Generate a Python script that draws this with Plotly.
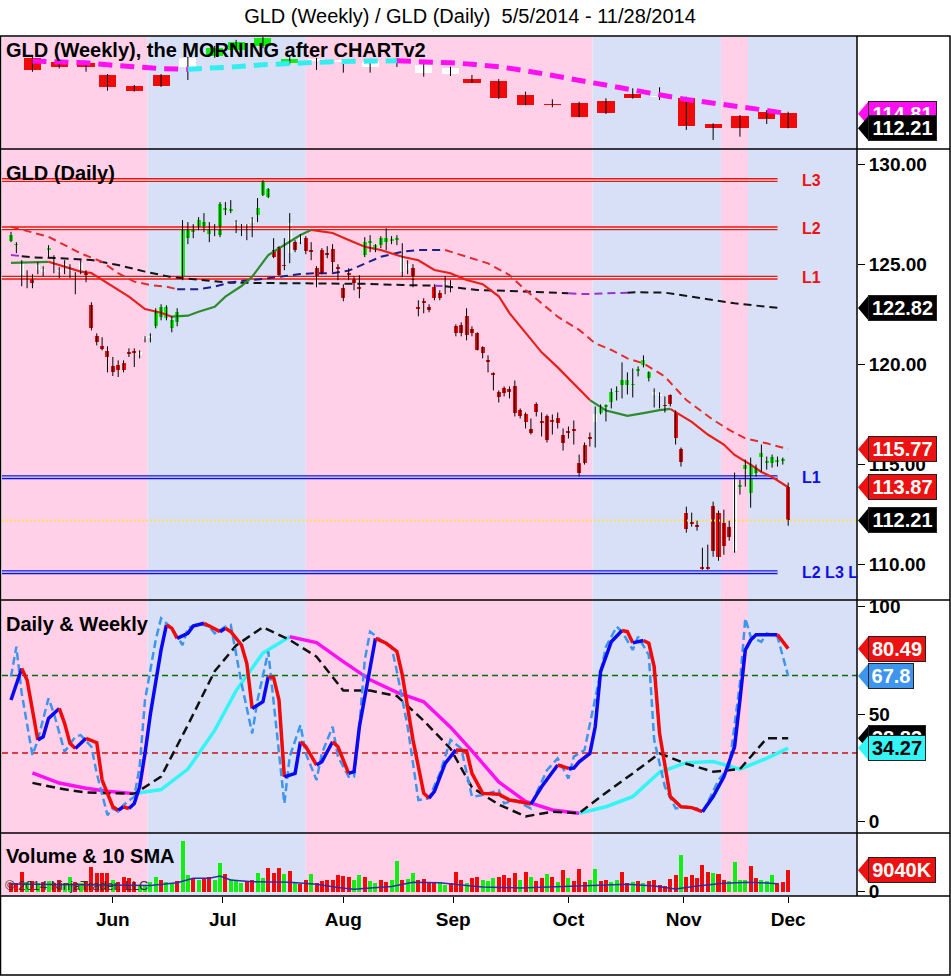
import plotly.graph_objects as go

# ============================ DATA ============================
# Daily GLD bars 5/5/2014 - 11/28/2014 (bar index = trading day)
day_open = [126.15,125.95,124.45,124.30,124.40,124.70,124.60,125.70,125.00,124.60,
            124.90,124.65,124.35,124.70,124.55,122.96,121.40,120.90,120.67,119.90,
            119.97,120.05,120.60,120.65,120.45,121.25,121.30,121.90,122.35,122.30,
            121.80,122.10,124.30,126.30,126.60,126.85,126.90,126.50,126.75,126.45,
            127.70,127.65,126.95,126.75,126.85,127.05,127.45,128.45,128.35,125.70,
            125.85,124.95,125.55,126.10,126.10,126.30,125.70,124.80,125.70,125.55,
            125.75,124.85,123.80,124.55,124.35,123.85,125.45,126.05,125.70,125.95,
            126.10,126.15,126.20,124.60,124.70,124.80,122.85,123.15,122.85,123.85,
            123.55,124.00,123.85,121.90,121.95,122.40,121.75,121.55,120.85,120.20,
            119.55,118.60,118.80,118.75,118.90,117.70,117.50,116.80,118.00,117.15,
            117.40,117.20,117.30,116.50,116.70,116.75,115.10,116.00,116.35,117.10,
            117.55,117.85,118.10,118.60,118.95,118.95,118.95,119.65,119.95,119.30,
            118.45,118.40,117.90,118.45,117.60,115.80,112.60,112.10,111.95,109.90,
            109.90,112.95,112.60,112.10,111.90,110.70,113.90,114.80,113.60,114.60,
            115.40,115.10,115.10,115.15,115.20,113.88]
day_high = [126.62,126.10,125.20,124.70,124.50,125.10,124.90,125.95,125.45,124.85,
            125.20,125.00,124.60,125.20,124.70,123.10,121.55,121.35,120.90,120.37,
            120.20,120.20,120.80,120.80,120.70,121.40,121.55,122.80,123.00,122.95,
            122.40,122.80,127.20,127.10,127.00,127.35,127.55,127.10,127.00,128.10,
            128.10,128.20,127.20,127.00,127.00,127.35,128.30,129.20,128.80,126.30,
            125.90,126.30,127.55,126.20,126.50,126.40,126.10,124.90,125.80,125.90,
            126.00,125.00,124.00,124.80,124.40,124.45,126.35,126.45,126.00,126.40,
            126.80,126.40,126.45,126.05,125.20,125.00,123.20,123.30,123.00,124.00,
            123.70,124.40,124.20,122.00,122.10,122.80,121.90,121.60,120.90,120.45,
            119.60,118.70,118.90,118.90,119.20,117.80,117.60,117.30,118.10,117.60,
            117.50,117.50,117.60,116.80,116.90,117.20,115.50,116.10,116.60,117.90,
            118.00,118.00,118.80,118.90,120.10,119.60,119.80,119.90,120.45,119.65,
            118.80,118.60,118.40,118.50,117.70,115.85,112.90,112.60,112.20,110.85,
            111.00,113.15,112.70,112.75,112.20,114.60,114.25,115.25,115.35,115.00,
            116.00,115.40,115.50,115.40,115.35,114.10]
day_low = [126.10,125.55,123.90,123.80,123.80,124.50,124.40,125.35,124.55,124.30,
           124.50,124.30,123.50,124.50,124.10,121.70,120.95,120.70,119.60,119.42,
           119.37,119.60,120.37,119.87,120.30,121.10,121.10,121.80,122.20,122.20,
           121.60,121.90,124.20,126.00,126.30,126.70,126.60,126.10,126.40,126.35,
           127.45,127.55,126.55,126.40,126.20,126.35,127.10,128.40,128.30,125.30,
           124.40,124.70,125.05,125.60,126.00,125.50,125.20,123.85,124.50,125.30,
           124.60,124.20,123.15,124.20,123.70,123.30,125.35,125.60,125.60,125.80,
           125.70,126.00,125.95,124.35,124.50,123.85,122.40,122.55,122.60,123.20,
           123.20,123.50,123.60,121.40,121.40,121.20,121.40,120.70,120.30,119.60,
           118.70,118.10,118.40,118.30,117.40,117.30,116.80,116.50,117.40,116.40,
           116.10,116.50,116.80,115.70,116.30,116.00,114.40,115.00,115.90,115.85,
           117.50,117.15,117.80,118.20,118.30,118.50,118.35,119.40,119.85,119.15,
           117.85,117.80,117.60,117.90,116.00,114.90,111.60,111.90,111.70,109.75,
           109.75,110.40,110.20,110.50,111.20,110.60,113.50,113.90,112.85,114.40,
           114.65,114.75,114.85,114.90,115.00,111.95]
day_close = [126.45,126.00,125.10,124.40,124.05,124.95,124.75,125.80,125.10,124.70,
             125.00,124.75,124.25,125.05,124.45,121.80,121.10,120.75,120.37,119.60,
             119.72,119.70,120.52,120.55,120.60,121.35,121.40,122.60,122.85,122.85,
             122.20,122.60,126.85,126.80,126.75,127.20,127.10,126.75,126.85,128.00,
             127.80,127.75,127.10,126.90,127.00,127.25,127.80,129.10,128.75,125.35,
             124.45,124.90,127.05,125.70,126.40,125.65,125.60,124.25,124.55,125.45,
             125.10,124.75,123.30,124.45,124.05,123.75,126.10,126.15,125.95,126.30,
             126.30,126.25,126.30,125.45,125.00,124.20,122.75,123.05,122.70,123.30,
             123.30,124.10,123.95,121.55,121.55,121.45,121.55,120.70,120.55,120.10,
             119.45,118.35,118.55,118.60,117.55,117.40,117.10,116.60,117.60,117.05,
             116.25,117.10,117.05,116.10,116.60,116.70,114.60,115.10,116.30,117.50,
             117.80,117.95,118.60,118.65,119.20,119.20,119.00,119.75,120.20,119.60,
             118.60,118.50,117.95,118.00,116.35,115.15,111.80,112.05,111.90,109.80,
             109.80,110.70,110.40,110.95,111.40,114.30,114.00,115.00,115.00,114.85,
             115.60,115.15,115.40,115.25,115.25,112.21]
# paint-bar state per day: G = bullish, R = bearish, W = neutral
day_paint = ("GGWWRWWGWWWWRW" + "R" * 10 + "WWW" + "G" * 15 + "WWWWGGGRRRWRW" + "R" * 11 +
             "G" * 7 + "WW" + "R" * 6 + "WW" + "R" * 26 + "W" + "G" * 10 + "WW" + "R" * 13 +
             "W" + "G" * 9 + "R")

# Weekly bars (plotted at the last daily bar of each week)
week_end_bar = [4, 9, 14, 18, 23, 28, 33, 38, 42, 47, 52, 57, 62, 67, 72, 77, 82, 86, 91, 96,
                101, 106, 111, 116, 121, 126, 131, 136, 141, 145]
wk_open = [124.71,124.10,123.92,121.73,119.76,121.73,123.21,125.12,126.19,126.91,
           123.92,124.20,124.05,123.21,124.20,122.03,121.91,120.96,120.66,118.16,
           116.55,116.78,117.09,118.33,117.71,117.57,112.92,114.41,115.17,114.89]
wk_high = [125.10,124.30,124.10,121.90,119.94,121.90,124.94,126.90,128.00,128.60,
           124.90,124.77,124.40,124.60,124.77,123.87,123.21,121.73,121.00,118.75,
           117.39,116.96,117.57,119.35,119.53,117.85,113.10,114.58,115.48,115.17]
wk_low = [122.30,122.90,122.32,118.92,118.75,119.58,120.84,124.80,125.80,126.50,
          123.60,122.62,122.14,122.14,123.16,121.42,121.55,120.35,117.44,116.32,
          115.96,114.17,114.76,117.50,117.26,111.91,110.12,110.71,112.98,112.21]
wk_close = [122.62,123.21,123.21,119.53,118.92,119.76,124.71,126.55,127.62,128.33,
            124.53,124.60,124.40,124.10,124.60,123.51,122.92,120.35,117.57,116.37,
            116.37,114.28,114.89,117.57,117.98,112.62,112.32,112.32,113.82,112.21]
wk_paint = "RRRRRRWGGGGWWWWWWRRRRRRRWRRRRR"
wk_ma = [124.23,124.12,123.90,123.55,123.20,122.85,122.75,122.92,123.20,123.55,
         123.85,124.00,124.15,124.20,124.25,124.12,123.90,123.65,123.20,122.50,
         121.60,120.90,119.94,119.10,118.20,117.35,116.60,116.05,115.40,114.81]

# Daily moving averages (read at selected bars); colour state of segment ending at each point
ema_bar = [0, 7, 10, 13, 15, 18, 22, 25, 28, 30, 33, 35, 38, 40, 43, 45, 48, 51, 54, 56,
           60, 63, 66, 69, 73, 76, 79, 82, 85, 88, 91, 93, 96, 99, 102, 105, 108, 111, 113, 115,
           118, 121, 123, 124, 127, 130, 133, 135, 138, 140, 142, 145]
ema_val = [125.07,125.12,124.88,124.63,124.56,124.06,123.38,122.76,122.58,122.38,
           122.43,122.63,122.88,123.38,123.91,124.38,125.45,125.96,126.46,126.71,
           126.56,126.21,125.87,125.71,125.37,125.20,124.71,124.55,124.21,124.00,
           123.40,122.56,121.60,120.60,119.85,119.05,118.22,117.70,117.57,117.43,
           117.57,117.72,117.78,117.62,117.13,116.50,116.00,115.48,115.00,114.63,
           114.38,113.87]
ema_state = "GGRRRRRRRRGGGGGGGGGGRRRRRRRRRRRRRRRRRGGGGGGRRRRRRRRR"

env_bar = [0, 7, 13, 17, 20, 23, 26, 29, 31, 35, 38, 41, 48, 51, 54, 57, 60, 63, 66, 69,
           73, 76, 81, 85, 89, 93, 96, 99, 102, 106, 109, 112, 115, 118, 122, 126, 131, 134, 137, 141,
           145]
env_val = [126.87,126.37,125.54,125.12,124.55,124.13,123.96,123.88,123.75,123.75,
           123.88,124.10,124.30,124.41,124.51,124.55,124.55,124.68,125.04,125.37,
           125.62,125.71,125.71,125.37,125.04,124.46,123.71,123.05,122.38,121.72,
           121.05,120.72,120.30,120.05,119.39,118.22,117.23,116.73,116.31,116.06,
           115.77]
env_state = "RRRRRRRRRBBBBBBBBBBBBBBRRRRRRRRRRRRRRRRRR"

sma_bar = [0, 2, 4, 10, 15, 20, 25, 30, 35, 41, 48, 54, 60, 66, 73, 79, 81, 87, 92, 98,
           104, 107, 115, 117, 122, 129, 135, 143]
sma_val = [125.46,125.40,125.34,125.29,125.21,124.96,124.63,124.35,124.21,124.08,
           124.06,124.05,124.05,124.02,123.96,123.93,123.90,123.71,123.68,123.63,
           123.55,123.51,123.58,123.60,123.58,123.30,123.05,122.82]
sma_state = "PPKKKKKKKKKKKKKKPKKKKPPKKKKK"

# Stochastics (daily: solid %D and dashed %K; weekly: solid and dashed)
stk_bar = [0, 2, 3, 4, 5, 6, 7, 9, 10, 11, 12, 14, 16, 17, 19, 20, 21, 22, 23, 24,
           25, 26, 28, 29, 30, 31, 33, 34, 36, 38, 39, 40, 41, 43, 44, 45, 47, 48, 49, 50,
           51, 53, 54, 55, 57, 58, 60, 61, 63, 64, 65, 67, 68, 70, 72, 73, 75, 77, 78, 79,
           81, 83, 85, 86, 88, 91, 93, 95, 97, 99, 102, 104, 105, 106, 108, 109, 110, 112, 114, 115,
           116, 118, 119, 120, 121, 123, 125, 127, 129, 131, 133, 135, 136, 137, 138, 139, 140, 141, 143, 145]
stk_val = [56.6, 71.3, 65.9, 52.0, 38.0, 39.5, 48.1, 52.7, 45.8, 36.5, 34.1, 38.8, 36.8, 19.4, 7.0, 5.4, 7.0, 6.2, 8.5, 16.3,
           31.8, 50.0, 79.9, 91.5, 90.0, 85.3, 87.6, 91.0, 92.3, 89.5, 88.4, 90.0, 88.4, 82.2, 73.6, 52.7, 55.8, 67.5, 67.0, 56.6,
           20.9, 22.5, 37.2, 34.9, 26.4, 27.9, 37.2, 34.9, 22.5, 23.3, 44.2, 72.1, 85.3, 83.0, 79.2, 68.3, 38.1, 13.3, 11.0, 14.1,
           27.2, 33.4, 33.0, 22.5, 13.2, 12.8, 10.1, 9.3, 8.2, 16.3, 26.4, 24.8, 25.0, 27.9, 31.8, 44.2, 69.8, 83.7, 88.9, 88.4,
           83.2, 84.3, 83.0, 72.1, 41.1, 11.7, 7.0, 6.6, 4.7, 11.7, 20.9, 34.9, 56.6, 79.9, 84.5, 87.0, 87.0, 87.0, 87.0, 80.49]
std_bar = [0, 1, 2, 4, 5, 7, 8, 10, 12, 13, 15, 16, 18, 19, 20, 21, 23, 24, 25, 27,
           28, 30, 32, 33, 35, 37, 38, 40, 41, 42, 43, 45, 46, 48, 49, 51, 52, 54, 55, 57,
           58, 60, 61, 63, 64, 65, 66, 67, 69, 71, 72, 74, 76, 78, 80, 82, 84, 86, 88, 91,
           92, 94, 97, 98, 100, 102, 104, 105, 107, 109, 111, 113, 114, 116, 117, 119, 120, 122, 124, 126,
           128, 129, 132, 134, 136, 137, 138, 140, 141, 143, 145]
std_val = [67.5, 81.4, 59.7, 31.0, 38.0, 57.4, 50.4, 32.6, 39.6, 40.3, 34.9, 22.5, 3.1, 6.2, 4.7, 7.8, 11.7, 25.6, 56.6, 84.5,
           94.6, 90.0, 82.2, 90.0, 92.3, 90.7, 87.6, 90.7, 91.5, 78.3, 64.4, 41.1, 56.6, 79.2, 55.1, 8.5, 30.3, 45.0, 31.8, 19.4,
           31.8, 44.2, 30.3, 20.9, 20.9, 44.2, 75.2, 88.4, 84.5, 81.4, 69.8, 44.2, 10.1, 11.0, 22.5, 38.1, 34.1, 11.7, 12.4, 14.7,
           8.5, 10.1, 6.2, 13.2, 24.0, 29.5, 20.1, 30.3, 33.4, 56.6, 81.4, 90.7, 88.4, 79.9, 86.1, 77.5, 38.1, 16.3, 6.2, 7.0,
           6.2, 3.9, 19.4, 25.6, 64.4, 94.6, 86.1, 83.7, 87.6, 86.1, 67.8]
wstk_val = [22.8, 18.0, 15.6, 14.2, 13.1, 15.0, 24.5, 42.5, 61.0, 78.5,
            86.0, 83.3, 74.5, 66.0, 60.2, 55.8, 44.0, 33.0, 18.5, 9.5,
            5.5, 4.0, 7.0, 11.7, 23.0, 27.5, 28.0, 24.5, 29.5, 34.27]
wstk_state = "-MMMMCCCCCCMMMMMMMMMMMCCCCCCCC"
wstd_val = [18.1, 15.5, 13.6, 13.3, 13.0, 21.0, 45.0, 70.0, 82.0, 90.5,
            84.5, 76.8, 61.0, 61.0, 58.5, 47.0, 34.0, 16.0, 8.0, 2.5,
            4.7, 4.0, 13.5, 22.5, 31.8, 27.0, 23.3, 24.5, 38.8, 38.83]
stoch_levels = [68, 32]

# Volume (millions) and direction (G up / R down)
volume = [3.6, 3.6, 8.5, 4.0, 4.5, 3.5, 4.0, 4.5, 3.5, 5.0, 3.8, 6.4, 4.0, 3.5, 4.0, 10.6, 8.0, 7.8, 8.0, 5.0,
          4.0, 6.4, 6.0, 4.2, 3.0, 2.9, 4.0, 6.4, 5.0, 4.0, 3.8, 4.5, 21.5, 7.2, 5.7, 5.0, 5.5, 6.4, 5.0, 12.3,
          7.3, 5.5, 5.0, 3.6, 4.5, 5.0, 7.8, 6.0, 10.0, 8.0, 10.0, 7.5, 8.8, 4.0, 3.4, 5.0, 7.3, 3.6, 4.5, 5.0,
          4.8, 7.0, 6.8, 6.4, 5.0, 7.1, 6.4, 4.5, 3.6, 5.0, 4.2, 5.0, 13.1, 5.0, 5.5, 7.8, 5.0, 5.5, 4.2, 3.6,
          4.0, 3.0, 3.5, 8.5, 5.0, 3.6, 5.7, 6.4, 5.0, 4.5, 5.7, 6.4, 7.1, 6.0, 7.8, 5.0, 8.5, 6.4, 4.5, 5.7,
          7.3, 6.4, 4.0, 9.2, 5.7, 4.5, 9.8, 4.2, 5.0, 9.8, 4.5, 5.0, 4.2, 5.0, 8.5, 3.6, 4.2, 4.5, 3.6, 4.5,
          5.0, 2.9, 2.5, 5.5, 7.1, 15.5, 6.4, 7.1, 6.0, 11.4, 8.5, 7.8, 7.5, 5.0, 4.5, 12.7, 5.0, 5.0, 11.0, 6.0,
          5.0, 4.5, 7.1, 3.6, 4.0, 9.04]
vol_dir = ("RRRGRGRGRRGGRGRRRRRG" "RRRRGGGGRGGRGGRGRRGG" "RGGGRRGGRRRGRGRRGRRR"
           "RRRRGGRGGRRGGRGGRRRR" "GGRRRGRRGGGRRRRGRGRR" "GRGRGRRRGGRRGGRRGRGR"
           "RRRRRGRRRRRGRRGGGGRR" "GGGRRR")
vsma_bar = [0, 9, 21, 26, 31, 34, 37, 39, 41, 45, 52, 57, 61, 64, 67, 71, 75, 80, 85, 88,
            95, 100, 105, 110, 115, 120, 124, 128, 133, 138, 143]
vsma_val = [3.3, 3.0, 2.6, 2.6, 3.8, 5.7, 5.7, 6.6, 5.0, 4.2, 4.0, 3.2, 1.8, 1.0, 1.6, 2.2, 4.0, 3.8, 2.6, 2.0,
            1.6, 2.0, 2.6, 3.0, 3.2, 2.4, 1.2, 2.4, 3.6, 4.0, 3.4]

# Axis / annotations data
month_labels = ["Jun", "Jul", "Aug", "Sep", "Oct", "Nov", "Dec"]
month_tick_bars = [19, 39.5, 62, 82.5, 104, 125.5, 145]
band_edges = [25.5, 55, 108.5, 132.5, 137.5]      # background regime changes (bar index)
red_levels = [124.33, 126.79, 129.20]
red_level_labels = ["L1", "L2", "L3"]
blue_levels = [114.37, 109.63]
blue_level_labels = ["L1", "L2 L3 L"]

# ============================ STYLE / LAYOUT ============================
FONT = "Liberation Sans, Arial, sans-serif"
W, H = 951, 976
L_PX, R_PX, TOP_PX, BOT_PX = 2, 857, 37, 896
PANELS = {"w": (37, 149), "d": (149, 600), "s": (600, 833), "v": (833, 896)}
X_RANGE = [-1.68, 157.84]
RANGES = {"w": [108.51, 128.51], "d": [108.24, 130.75], "s": [-5.21, 103.12], "v": [-1.82, 24.87]}
PINK, BLUE = "#FFD0E8", "#D7E0F7"
CANDLE_COL = {"G": "#11EE11", "R": "#F00A0A", "W": "#FFFFFF"}
UP_COL, DN_COL = "#11EE11", "#F00A0A"


def py(Y):
    return (BOT_PX - Y) / (BOT_PX - TOP_PX)


def pxp(X):
    return (X - L_PX) / (R_PX - L_PX)


fig = go.Figure()
bars = list(range(len(day_close)))
last = bars[-1]


def add_candles(xs, o, h, l, c, paint, yax, width, min_body):
    wx, wy = [], []
    for x, hi, lo in zip(xs, h, l):
        wx += [x, x, None]
        wy += [lo, hi, None]
    fig.add_trace(go.Scatter(x=wx, y=wy, mode="lines", line=dict(color="black", width=1),
                             xaxis="x", yaxis=yax, hoverinfo="skip"))
    base = [min(a, b) for a, b in zip(o, c)]
    hgt = [max(abs(a - b), min_body) for a, b in zip(o, c)]
    cols = [CANDLE_COL.get(paint[i] if i < len(paint) else "R") for i in range(len(xs))]
    fig.add_trace(go.Bar(x=xs, y=hgt, base=base, width=width,
                         marker=dict(color=cols, line=dict(width=0)),
                         xaxis="x", yaxis=yax, hoverinfo="skip"))


def add_state_line(xs, ys, states, colmap, yax, width, dash=None):
    sx, sy = [xs[0]], [ys[0]]
    cur = states[1]
    for i in range(1, len(xs)):
        if states[i] != cur:
            fig.add_trace(go.Scatter(x=sx, y=sy, mode="lines",
                                     line=dict(color=colmap[cur], width=width, dash=dash),
                                     xaxis="x", yaxis=yax, hoverinfo="skip"))
            sx, sy = [xs[i - 1]], [ys[i - 1]]
            cur = states[i]
        sx.append(xs[i])
        sy.append(ys[i])
    fig.add_trace(go.Scatter(x=sx, y=sy, mode="lines",
                             line=dict(color=colmap[cur], width=width, dash=dash),
                             xaxis="x", yaxis=yax, hoverinfo="skip"))


def slope_states(ys, up, down):
    s = ["-"]
    for i in range(1, len(ys)):
        s.append(up if ys[i] >= ys[i - 1] else down)
    return s


def hline(y, x0, x1, yax, color, width, dash=None):
    fig.add_trace(go.Scatter(x=[x0, x1], y=[y, y], mode="lines",
                             line=dict(color=color, width=width, dash=dash),
                             xaxis="x", yaxis=yax, hoverinfo="skip"))


# weekly panel
add_candles(week_end_bar, wk_open, wk_high, wk_low, wk_close, wk_paint, "y", 3.2, 0.15)
add_state_line(week_end_bar, wk_ma, slope_states(wk_ma, "C", "M"),
               {"C": "#33EEEE", "M": "#FF10F0"}, "y", 5, "14px,8px")

# daily panel: levels first
lvl_end = last - 2
for lv in red_levels:
    hline(lv, X_RANGE[0], lvl_end, "y2", "#EE1111", 4)
    hline(lv, X_RANGE[0], lvl_end, "y2", "#FFF0F0", 1.2)
for lv in blue_levels:
    hline(lv, X_RANGE[0], lvl_end, "y2", "#1010DD", 4)
    hline(lv, X_RANGE[0], lvl_end, "y2", "#E8ECFF", 1.2)
hline(day_close[-1], X_RANGE[0], X_RANGE[1], "y2", "#FFE050", 2, "2px,2px")

add_state_line(sma_bar, sma_val, sma_state, {"K": "#141414", "P": "#9933CC"}, "y2", 2, "8px,5px")
add_state_line(env_bar, env_val, env_state, {"R": "#E52A2A", "B": "#1E1E8C"}, "y2", 2, "8px,5px")
add_state_line(ema_bar, ema_val, ema_state, {"R": "#E8201A", "G": "#2E8B2E"}, "y2", 2.2)
add_candles(bars, day_open, day_high, day_low, day_close, day_paint, "y2", 0.75, 0.08)

# stochastic panel
hline(stoch_levels[0], X_RANGE[0], X_RANGE[1], "y3", "#0B6B0B", 1.6, "6px,4px")
hline(stoch_levels[1], X_RANGE[0], X_RANGE[1], "y3", "#CC1111", 1.6, "6px,4px")
add_state_line(week_end_bar, wstk_val, wstk_state, {"C": "#33F5F5", "M": "#FF10F0"}, "y3", 3.5)
fig.add_trace(go.Scatter(x=week_end_bar, y=wstd_val, mode="lines",
                         line=dict(color="#111111", width=2.5, dash="9px,5px"),
                         xaxis="x", yaxis="y3", hoverinfo="skip"))
fig.add_trace(go.Scatter(x=std_bar, y=std_val, mode="lines",
                         line=dict(color="#3D95EE", width=2.5, dash="8px,4px"),
                         xaxis="x", yaxis="y3", hoverinfo="skip"))
add_state_line(stk_bar, stk_val, slope_states(stk_val, "U", "D"),
               {"U": "#0A0AF0", "D": "#F00A0A"}, "y3", 3.5)

# volume panel
vcols = [UP_COL if (i < len(vol_dir) and vol_dir[i] == "G") else DN_COL for i in range(len(volume))]
fig.add_trace(go.Bar(x=bars, y=volume, width=0.75,
                     marker=dict(color=vcols, line=dict(width=0)),
                     xaxis="x", yaxis="y4", hoverinfo="skip"))
fig.add_trace(go.Scatter(x=vsma_bar, y=vsma_val, mode="lines",
                         line=dict(color="#2D2DB0", width=1.5), xaxis="x", yaxis="y4",
                         hoverinfo="skip"))

# ---------- background regime bands ----------
shapes = []
edges = [X_RANGE[0]] + band_edges + [X_RANGE[1]]
for k in range(len(edges) - 1):
    shapes.append(dict(type="rect", xref="x", yref="paper", x0=edges[k], x1=edges[k + 1],
                       y0=0, y1=1, fillcolor=PINK if k % 2 == 0 else BLUE,
                       line=dict(width=0), layer="below"))

# ---------- frame ----------
XL, XR = pxp(0.5), pxp(950)
shapes.append(dict(type="rect", xref="paper", yref="paper", x0=XL, x1=XR, y0=py(975), y1=py(36),
                   line=dict(color="black", width=1.5), fillcolor="rgba(0,0,0,0)", layer="above"))
for Y in (149, 600, 833, 896):
    shapes.append(dict(type="line", xref="paper", yref="paper", x0=XL, x1=XR, y0=py(Y), y1=py(Y),
                       line=dict(color="black", width=1.5), layer="above"))
shapes.append(dict(type="line", xref="paper", yref="paper", x0=1, x1=1, y0=py(896), y1=py(36),
                   line=dict(color="black", width=1.5), layer="above"))

annotations = []


def value_box(yax, val, text, bg, fg, width):
    shapes.append(dict(type="path", xref="paper", yref=yax, xsizemode="pixel", ysizemode="pixel",
                       xanchor=1, yanchor=val, path="M1,0 L12,13 L12,-13 Z",
                       fillcolor=bg, line=dict(width=0), layer="above"))
    annotations.append(dict(x=1, xref="paper", xanchor="left", xshift=11, y=val, yref=yax,
                            yanchor="middle", text=text, showarrow=False,
                            font=dict(family=FONT, size=20, color=fg, weight="bold"),
                            bgcolor=bg, bordercolor="#222222", borderwidth=1, borderpad=1,
                            width=width, height=22, align="center"))


value_box("y", wk_ma[-1], f"{wk_ma[-1]:.2f}", "#FF10F0", "white", 65)
value_box("y", wk_close[-1], f"{wk_close[-1]:.2f}", "black", "white", 65)
value_box("y2", sma_val[-1], f"{sma_val[-1]:.2f}", "black", "white", 65)
value_box("y2", env_val[-1], f"{env_val[-1]:.2f}", "#EE1111", "white", 65)
value_box("y2", ema_val[-1], f"{ema_val[-1]:.2f}", "#EE1111", "white", 65)
value_box("y2", day_close[-1], f"{day_close[-1]:.2f}", "black", "white", 65)
value_box("y3", stk_val[-1], f"{stk_val[-1]:.2f}", "#EE1111", "white", 54)
value_box("y3", std_val[-1], f"{std_val[-1]:.1f}", "#3D95EE", "white", 42)
value_box("y3", wstd_val[-1], f"{wstd_val[-1]:.2f}", "black", "white", 54)
value_box("y3", wstk_val[-1], f"{wstk_val[-1]:.2f}", "#33F5F5", "black", 54)
value_box("y4", volume[-1], f"{volume[-1] * 1000:.0f}K", "#EE1111", "white", 64)

# level labels
LBL_X = 147.2
for lv, t in zip(red_levels, red_level_labels):
    annotations.append(dict(x=LBL_X, y=lv, xref="x", yref="y2", xanchor="left", yanchor="middle",
                            text=t, showarrow=False,
                            font=dict(family=FONT, size=16, color="#EE1111", weight="bold")))
for lv, t in zip(blue_levels, blue_level_labels):
    annotations.append(dict(x=LBL_X, y=lv, xref="x", yref="y2", xanchor="left", yanchor="middle",
                            text=t, showarrow=False,
                            font=dict(family=FONT, size=16, color="#1010DD", weight="bold")))

# panel titles
for txt, Y in (("GLD (Weekly), the MORNING after CHARTv2", 50), ("GLD (Daily)", 173),
               ("Daily & Weekly", 624), ("Volume & 10 SMA", 856)):
    annotations.append(dict(x=pxp(4), y=py(Y), xref="paper", yref="paper", xanchor="left",
                            yanchor="middle", text=txt, showarrow=False,
                            font=dict(family=FONT, size=20, color="black", weight="bold")))
annotations.append(dict(x=pxp(3), y=py(885), xref="paper", yref="paper", xanchor="left",
                        yanchor="middle", text="© 2014 NinjaTrader, LLC", showarrow=False,
                        font=dict(family=FONT, size=13, color="#333333")))


def dom(key):
    top, bot = PANELS[key]
    return [py(bot), py(top)]


ax_common = dict(side="right", anchor="x", showgrid=False, zeroline=False, showline=False,
                 ticks="outside", ticklen=7, tickcolor="black", tickwidth=1,
                 tickfont=dict(family=FONT, size=19, color="black", weight="bold"), fixedrange=True)

fig.update_layout(
    width=W, height=H,
    margin=dict(l=L_PX, r=W - R_PX, t=TOP_PX, b=H - BOT_PX),
    paper_bgcolor="white", plot_bgcolor="white",
    barmode="overlay", bargap=0, showlegend=False, hovermode=False,
    font=dict(family=FONT, color="black"),
    title=dict(text="GLD (Weekly) / GLD (Daily)  5/5/2014 - 11/28/2014", xref="container",
               x=470 / W, xanchor="center", yref="container", y=1 - 16 / H, yanchor="middle",
               font=dict(family=FONT, size=20, color="black")),
    xaxis=dict(domain=[0, 1], range=X_RANGE, anchor="y4", tickvals=month_tick_bars,
               ticktext=month_labels, ticks="outside", ticklen=6, tickcolor="black",
               tickfont=dict(family=FONT, size=19, color="black", weight="bold"),
               showgrid=False, zeroline=False, showline=False, fixedrange=True),
    yaxis=dict(domain=dom("w"), range=RANGES["w"], **{**ax_common, "ticks": ""},
               showticklabels=False),
    yaxis2=dict(domain=dom("d"), range=RANGES["d"], tickvals=[110, 115, 120, 125, 130],
                tickformat=".2f", **ax_common),
    yaxis3=dict(domain=dom("s"), range=RANGES["s"], tickvals=[0, 50, 100], **ax_common),
    yaxis4=dict(domain=dom("v"), range=RANGES["v"], tickvals=[0], **ax_common),
    shapes=shapes, annotations=annotations,
)

fig.write_html("out.html", config={"displayModeBar": False, "staticPlot": True},
               post_script="document.body.style.margin='0';document.body.style.overflow='hidden';")
